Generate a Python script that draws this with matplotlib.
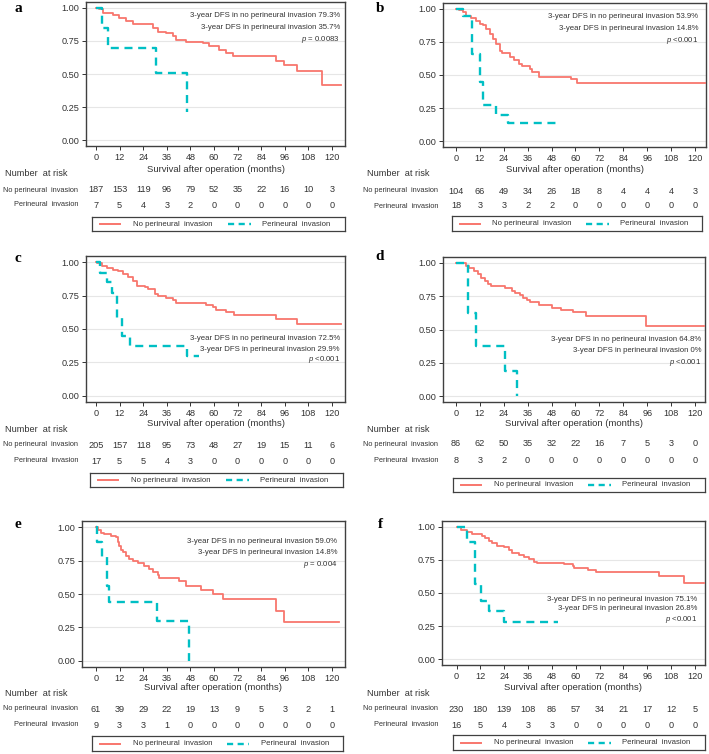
import matplotlib
matplotlib.use("Agg")
from matplotlib import pyplot as plt
from matplotlib.lines import Line2D
from matplotlib import transforms

plt.rcParams['font.family'] = ['Liberation Sans', 'DejaVu Sans']
plt.rcParams['mathtext.fontset'] = 'custom'
plt.rcParams['mathtext.it'] = 'Liberation Sans:italic'
plt.rcParams['mathtext.rm'] = 'Liberation Sans'

RED = '#f8766d'
TEAL = '#00bfc4'
TXT = '#333333'

risk_times = [0, 12, 24, 36, 48, 60, 72, 84, 96, 108, 120]
group_names = ['No perineural  invasion', 'Perineural  invasion']

# ---- panel a
a_no_t = [0, 1.7, 3.4, 8.5, 11.9, 15.3, 18.6, 23.7, 28.8, 31.4, 35.6, 39.0, 40.7, 45.8, 54.2, 57.6, 62.7, 66.1, 69.5, 91.5, 95.8, 102.0, 114.7, 124.6]
a_no_s = [1.0, 0.99, 0.96, 0.95, 0.925, 0.90, 0.88, 0.875, 0.85, 0.82, 0.81, 0.785, 0.76, 0.745, 0.735, 0.71, 0.685, 0.66, 0.64, 0.595, 0.565, 0.525, 0.42, 0.42]
a_pn_t = [0, 2.9, 6.3, 30.5, 46.3]
a_pn_s = [1.0, 0.85, 0.70, 0.505, 0.21]
a_risk_no = [187, 153, 119, 96, 79, 52, 35, 22, 16, 10, 3]
a_risk_pn = [7, 5, 4, 3, 2, 0, 0, 0, 0, 0, 0]
a_notes = ["3-year DFS in no perineural invasion 79.3%", "3-year DFS in perineural invasion 35.7%", r"$\it{p}$ = 0.0083"]

# ---- panel b
b_no_t = [0, 1.7, 3.4, 5.1, 7.6, 10.2, 11.9, 13.6, 15.3, 16.9, 18.6, 20.3, 22.0, 22.9, 27.0, 29.0, 31.4, 33.1, 37.3, 38.1, 41.5, 57.6, 60.7, 127]
b_no_s = [1.0, 0.99, 0.975, 0.95, 0.935, 0.91, 0.885, 0.875, 0.85, 0.81, 0.77, 0.735, 0.685, 0.665, 0.64, 0.61, 0.585, 0.57, 0.545, 0.52, 0.485, 0.47, 0.44, 0.44]
b_pn_t = [0, 3.4, 8.0, 12.0, 13.8, 20.0, 26.3, 52.5]
b_pn_s = [1.0, 0.95, 0.66, 0.45, 0.27, 0.20, 0.14, 0.14]
b_risk_no = [104, 66, 49, 34, 26, 18, 8, 4, 4, 4, 3]
b_risk_pn = [18, 3, 3, 2, 2, 0, 0, 0, 0, 0, 0]
b_notes = ["3-year DFS in no perineural invasion 53.9%", "3-year DFS in perineural invasion 14.8%", r"$\it{p}$ <0.001"]

# ---- panel c
c_no_t = [0, 0.3, 2.9, 5.4, 8.8, 11.3, 13.9, 16.4, 18.9, 20.6, 24.8, 26.5, 29.9, 31.6, 35.8, 39.2, 40.9, 56.1, 59.5, 61.1, 66.2, 70.4, 91.6, 102.0, 124.5]
c_no_s = [1.0, 0.99, 0.97, 0.955, 0.94, 0.93, 0.91, 0.89, 0.855, 0.82, 0.81, 0.795, 0.765, 0.745, 0.73, 0.715, 0.695, 0.68, 0.665, 0.645, 0.625, 0.605, 0.575, 0.535, 0.535]
c_pn_t = [0, 2.0, 5.4, 8.0, 10.6, 13.1, 17.4, 46.3, 52.3]
c_pn_s = [1.0, 0.92, 0.85, 0.77, 0.58, 0.45, 0.375, 0.30, 0.30]
c_risk_no = [205, 157, 118, 95, 73, 48, 27, 19, 15, 11, 6]
c_risk_pn = [17, 5, 5, 4, 3, 0, 0, 0, 0, 0, 0]
c_notes = ["3-year DFS in no perineural invasion 72.5%", "3-year DFS in perineural invasion 29.9%", r"$\it{p}$ <0.001"]

# ---- panel d
d_no_t = [0, 5.1, 6.8, 9.3, 11.0, 12.7, 14.4, 16.1, 17.8, 24.6, 28.0, 29.7, 32.2, 33.9, 35.6, 37.3, 41.5, 48.3, 52.5, 58.5, 65.3, 95.4, 124.5]
d_no_s = [1.0, 0.98, 0.96, 0.94, 0.92, 0.89, 0.865, 0.84, 0.825, 0.81, 0.79, 0.775, 0.76, 0.74, 0.725, 0.705, 0.685, 0.665, 0.65, 0.63, 0.60, 0.53, 0.53]
d_pn_t = [0, 5.9, 10.2, 24.6, 30.8]
d_pn_s = [1.0, 0.625, 0.375, 0.19, 0.0]
d_risk_no = [86, 62, 50, 35, 32, 22, 16, 7, 5, 3, 0]
d_risk_pn = [8, 3, 2, 0, 0, 0, 0, 0, 0, 0, 0]
d_notes = ["3-year DFS in no perineural invasion 64.8%", "3-year DFS in perineural invasion 0%", r"$\it{p}$ <0.001"]

# ---- panel e
e_no_t = [0, 0.8, 2.5, 4.2, 7.6, 10.2, 11.0, 11.9, 12.7, 13.6, 15.3, 16.9, 18.6, 21.2, 24.6, 27.1, 28.8, 31.4, 32.2, 42.0, 45.8, 53.4, 59.3, 64.7, 91.5, 95.8, 123.7]
e_no_s = [1.0, 0.98, 0.955, 0.95, 0.935, 0.925, 0.885, 0.86, 0.83, 0.81, 0.785, 0.76, 0.745, 0.735, 0.71, 0.685, 0.665, 0.645, 0.62, 0.595, 0.563, 0.53, 0.50, 0.46, 0.375, 0.29, 0.29]
e_pn_t = [0, 0.3, 3.0, 5.4, 6.8, 31.0, 47.1]
e_pn_s = [1.0, 0.889, 0.778, 0.556, 0.444, 0.296, 0.0]
e_risk_no = [61, 39, 29, 22, 19, 13, 9, 5, 3, 2, 1]
e_risk_pn = [9, 3, 3, 1, 0, 0, 0, 0, 0, 0, 0]
e_notes = ["3-year DFS in no perineural invasion 59.0%", "3-year DFS in perineural invasion 14.8%", r"$\it{p}$ = 0.004"]

# ---- panel f
f_no_t = [0, 2.5, 5.1, 7.6, 10.2, 12.7, 14.4, 16.1, 17.8, 20.3, 23.7, 26.3, 28.0, 31.4, 33.9, 36.4, 39.0, 40.7, 54.2, 58.5, 59.3, 66.1, 70.3, 101.7, 114.4, 124.6]
f_no_s = [1.0, 0.98, 0.96, 0.95, 0.945, 0.93, 0.92, 0.895, 0.875, 0.855, 0.845, 0.825, 0.805, 0.785, 0.775, 0.755, 0.735, 0.73, 0.717, 0.705, 0.69, 0.675, 0.66, 0.63, 0.575, 0.575]
f_pn_t = [0, 5.4, 9.2, 12.2, 16.1, 24.0, 51.0]
f_pn_s = [1.0, 0.885, 0.57, 0.44, 0.364, 0.28, 0.28]
f_risk_no = [230, 180, 139, 108, 86, 57, 34, 21, 17, 12, 5]
f_risk_pn = [16, 5, 4, 3, 3, 0, 0, 0, 0, 0, 0]
f_notes = ["3-year DFS in no perineural invasion 75.1%", "3-year DFS in perineural invasion 26.8%", r"$\it{p}$ <0.001"]

W, H = 709, 754
fig = plt.figure(figsize=(W / 100, H / 100), dpi=100)


def fx(px):
    return px / W


def fy(py):
    return 1 - py / H


def draw_legend(leg):
    # boxed legend below the risk table, drawn in its own small axes
    lax = fig.add_axes([fx(leg[0]), fy(leg[3]), fx(leg[2] - leg[0]), (leg[3] - leg[1]) / H])
    lax.set_xlim(0, 1)
    lax.set_ylim(0, 1)
    lax.set_xticks([])
    lax.set_yticks([])
    for s in lax.spines.values():
        s.set_color('#404040')
        s.set_linewidth(0.9)
    lax.add_line(Line2D([0.032, 0.112], [0.5, 0.5], color=RED, lw=1.4))
    lax.add_line(Line2D([0.537, 0.627], [0.5, 0.5], color=TEAL, lw=1.7, dashes=[2.6, 1.9]))
    lax.text(0.162, 0.5, group_names[0], ha='left', va='center', fontsize=5.6, color=TXT)
    lax.text(0.672, 0.5, group_names[1], ha='left', va='center', fontsize=5.6, color=TXT)


def draw_panel(letter, no_t, no_s, pn_t, pn_s, risk_no, risk_pn, notes,
               box, xlim, note_x, note_y, xlab_y, nar, rows_y, lab_right, leg):
    l, t, r, b = box
    ax = fig.add_axes([fx(l), fy(b), fx(r - l), (b - t) / H])
    ax.step(no_t, no_s, where='post', color=RED, lw=1.3, zorder=3)
    pl, = ax.step(pn_t, pn_s, where='post', color=TEAL, lw=1.7, zorder=4)
    pl.set_dashes([3.4, 2.4])
    ax.set_xlim(*xlim)
    ax.set_ylim(-0.045, 1.045)
    ax.set_xticks(risk_times)
    ax.set_yticks([0, 0.25, 0.5, 0.75, 1.0])
    ax.set_yticklabels(['0.00', '0.25', '0.50', '0.75', '1.00'])
    ax.yaxis.grid(True, color='#e6e6e6', lw=0.8)
    ax.set_axisbelow(True)
    ax.tick_params(labelsize=6.6, colors=TXT, length=3, width=0.7, pad=2)
    for s in ax.spines.values():
        s.set_color('#404040')
        s.set_linewidth(1.0)
    for i, txt in enumerate(notes):
        ax.text(note_x, note_y[i], txt, transform=ax.transAxes, ha='right',
                va='center', fontsize=5.6, color=TXT)
    fig.text(fx((l + r) / 2), fy(xlab_y), 'Survival after operation (months)',
             ha='center', va='center', fontsize=6.8, color=TXT)
    fig.text(fx(nar[0]), fy(nar[1]), 'Number  at risk', ha='left', va='center',
             fontsize=6.6, color=TXT)
    tr = transforms.blended_transform_factory(ax.transData, fig.transFigure)
    for vals, yy, name in [(risk_no, rows_y[0], group_names[0]),
                           (risk_pn, rows_y[1], group_names[1])]:
        fig.text(fx(lab_right), fy(yy), name, ha='right', va='center',
                 fontsize=5.3, color=TXT)
        for tt, v in zip(risk_times, vals):
            ax.text(tt, fy(yy), str(v), transform=tr, ha='center', va='center',
                    fontsize=6.6, color=TXT, clip_on=False)
    draw_legend(leg)
    fig.text(fx(letter[1]), fy(letter[2]), letter[0], ha='center', va='center',
             fontsize=11, fontweight='bold', family='Liberation Serif')


draw_panel(('a', 18, 9), a_no_t, a_no_s, a_pn_t, a_pn_s, a_risk_no, a_risk_pn, a_notes,
           (86, 2, 345, 146), (-5.1, 126.6), 0.98, [0.903, 0.826, 0.743],
           169, (5, 174), (190, 205), 78, (92, 217, 345, 231))
draw_panel(('b', 380, 9), b_no_t, b_no_s, b_pn_t, b_pn_s, b_risk_no, b_risk_pn, b_notes,
           (443, 3, 706, 147), (-6.5, 125.5), 0.97, [0.903, 0.826, 0.74],
           169, (367, 174), (191, 206), 438, (452, 216, 702, 231))
draw_panel(('c', 18, 258), c_no_t, c_no_s, c_pn_t, c_pn_s, c_risk_no, c_risk_pn, c_notes,
           (86, 256, 345, 402), (-5.1, 126.6), 0.98, [0.438, 0.363, 0.288],
           423, (5, 429), (445, 461), 78, (90, 473, 343, 487))
draw_panel(('d', 380, 257), d_no_t, d_no_s, d_pn_t, d_pn_s, d_risk_no, d_risk_pn, d_notes,
           (443, 257, 705, 402), (-6.5, 125.0), 0.985, [0.428, 0.352, 0.269],
           424, (367, 429), (444, 460), 438, (453, 478, 705, 492))
draw_panel(('e', 18, 524), e_no_t, e_no_s, e_pn_t, e_pn_s, e_risk_no, e_risk_pn, e_notes,
           (82, 521, 345, 667), (-7.1, 126.6), 0.97, [0.858, 0.786, 0.705],
           688, (5, 693), (709, 725), 78, (92, 736, 343, 751))
draw_panel(('f', 380, 524), f_no_t, f_no_s, f_pn_t, f_pn_s, f_risk_no, f_risk_pn, f_notes,
           (442, 521, 705, 665), (-7.3, 125.0), 0.97, [0.458, 0.389, 0.319],
           688, (367, 693), (709, 725), 438, (453, 735, 705, 750))

fig.savefig('out.png', dpi=100)
